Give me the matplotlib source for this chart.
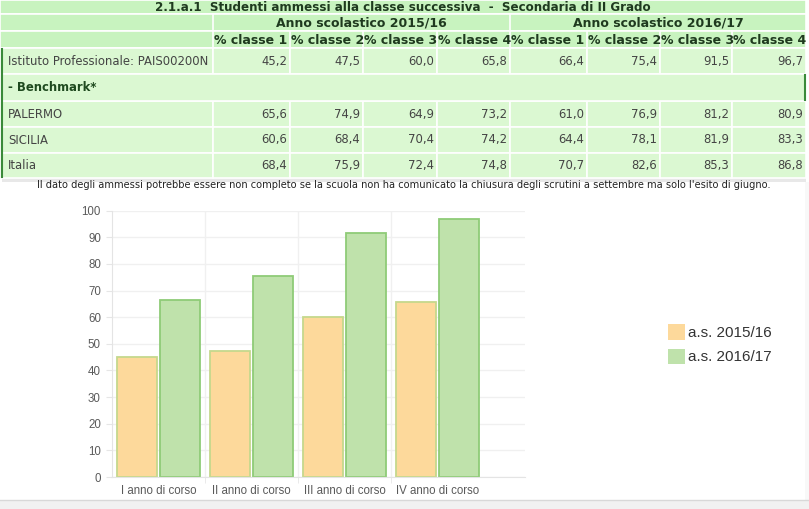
import matplotlib
matplotlib.use("Agg")
import matplotlib.pyplot as plt
import numpy as np
from matplotlib.patches import Rectangle

# --- table data ---
table_title = "2.1.a.1  Studenti ammessi alla classe successiva  -  Secondaria di II Grado"
year_headers = ["Anno scolastico 2015/16", "Anno scolastico 2016/17"]
col_headers = ["% classe 1", "% classe 2", "% classe 3", "% classe 4"] * 2
row_labels = ["Istituto Professionale: PAIS00200N", "PALERMO", "SICILIA", "Italia"]
row_values = [
    ["45,2", "47,5", "60,0", "65,8", "66,4", "75,4", "91,5", "96,7"],
    ["65,6", "74,9", "64,9", "73,2", "61,0", "76,9", "81,2", "80,9"],
    ["60,6", "68,4", "70,4", "74,2", "64,4", "78,1", "81,9", "83,3"],
    ["68,4", "75,9", "72,4", "74,8", "70,7", "82,6", "85,3", "86,8"],
]
footnote = ("Il dato degli ammessi potrebbe essere non completo se la scuola non ha "
            "comunicato la chiusura degli scrutini a settembre ma solo l'esito di giugno.")

# --- chart data ---
categories = ["I anno di corso", "II anno di corso", "III anno di corso", "IV anno di corso"]
series_labels = ["a.s. 2015/16", "a.s. 2016/17"]
values_1516 = [45.2, 47.5, 60.0, 65.8]
values_1617 = [66.4, 75.4, 91.5, 96.7]

W, H = 809, 509
fig = plt.figure(figsize=(W / 100, H / 100), dpi=100)
fig.patch.set_facecolor("white")

# overlay axes in pixel coords for the html-like table
bg = fig.add_axes([0, 0, 1, 1])
bg.set_xlim(0, W)
bg.set_ylim(H, 0)
bg.axis("off")

head_bg = "#c8f3bf"
cell_bg = "#dbf8d2"
tfont = "DejaVu Sans"
col_x = [0, 213, 290, 363, 437, 510, 587, 660, 732, 806]
head_rows = [(0, 14), (14, 31), (31, 48)]
data_rows = [(48, 74), (101, 127), (127, 153), (153, 178)]
bench_row = (74, 101)

# shadow under table / right edge
bg.add_patch(Rectangle((2, 178), 804, 4, color="#e8e8e8", lw=0))
bg.add_patch(Rectangle((805, 182), 4, 318, color="#f8f8f8", lw=0))
for y0, y1 in head_rows:
    bg.add_patch(Rectangle((0, y0), 806, y1 - y0, facecolor=head_bg, edgecolor="white", lw=1.2))
for y0, y1 in data_rows:
    for i in range(len(col_x) - 1):
        bg.add_patch(Rectangle((col_x[i], y0), col_x[i + 1] - col_x[i], y1 - y0,
                               facecolor=cell_bg, edgecolor="white", lw=1.2))
    bg.plot([2, 2], [y0 + 1, y1 - 1], color="#3a8a3a", lw=1.5)
bg.add_patch(Rectangle((0, bench_row[0]), 806, bench_row[1] - bench_row[0],
                       facecolor=cell_bg, edgecolor="white", lw=1.2))
bg.plot([2, 2], [bench_row[0] + 1, bench_row[1] - 1], color="#3a8a3a", lw=1.5)
bg.plot([805, 805], [bench_row[0] + 1, bench_row[1] - 1], color="#3a8a3a", lw=1.5)

# header separators for the year groups
for y0, y1 in head_rows[1:]:
    for x in ([213, 510] if y0 == 14 else col_x[1:-1]):
        bg.plot([x, x], [y0, y1], color="white", lw=1.2)

hcol = "#1f3a1f"
bg.text(651, 7, table_title, ha="right", va="center", fontsize=8.6, fontweight="bold",
        color=hcol, family=tfont)
for k, yh in enumerate(year_headers):
    xc = (col_x[1 + 4 * k] + col_x[5 + 4 * k]) / 2
    bg.text(xc, 22.5, yh, ha="center", va="center", fontsize=9, fontweight="bold",
            color=hcol, family=tfont)
for i, ch in enumerate(col_headers):
    bg.text(col_x[i + 1] + 1, 40, ch, ha="left", va="center", fontsize=9, fontweight="bold",
            color=hcol, family=tfont)

dcol = "#444444"
for (y0, y1), lab, vals in zip(data_rows, row_labels, row_values):
    yc = (y0 + y1) / 2
    bg.text(8, yc, lab, ha="left", va="center", fontsize=8.4, color=dcol, family=tfont)
    for i, v in enumerate(vals):
        bg.text(col_x[i + 2] - 3, yc, v, ha="right", va="center", fontsize=8.4,
                color=dcol, family=tfont)
bg.text(8, (bench_row[0] + bench_row[1]) / 2, "- Benchmark*", ha="left", va="center",
        fontsize=8.4, fontweight="bold", color="#1f4a1f", family=tfont)

bg.text(404, 185, footnote, ha="center", va="center", fontsize=7.1, color="#222222",
        family=tfont)

# bottom gray strip
bg.add_patch(Rectangle((0, 500), W, 9, color="#f1f1f1", lw=0))
bg.plot([0, W], [500, 500], color="#d8d8d8", lw=1)

# --- bar chart ---
ax = fig.add_axes([112 / W, (H - 477) / H, (525 - 112) / W, (477 - 210.7) / H])
x = np.arange(len(categories))
bw = 0.43
ax.bar(x - bw / 2 - 0.012, values_1516, width=bw, color="#fdd99b", edgecolor="#c5d88c",
       lw=1.3, label=series_labels[0], zorder=2)
ax.bar(x + bw / 2 + 0.012, values_1617, width=bw, color="#bfe2ab", edgecolor="#8fcb77",
       lw=1.3, label=series_labels[1], zorder=2)
ax.set_xlim(-0.5, (525 - 112) / 93 - 0.5)
ax.set_ylim(0, 100)
ax.set_yticks(np.arange(0, 101, 10))
ax.set_xticks(x)
ax.set_xticklabels(categories)
ax.set_xticks([0.5, 1.5, 2.5], minor=True)
ax.tick_params(axis="x", which="major", length=0, pad=6, labelsize=8.3, colors="#5a5a5a")
ax.tick_params(axis="x", which="minor", length=4, color="#e6e6e6")
ax.tick_params(axis="y", length=4, color="#e6e6e6", labelsize=8.3, colors="#5a5a5a", pad=4)
for t in ax.get_xticklabels() + ax.get_yticklabels():
    t.set_family("Liberation Sans")
ax.grid(axis="y", color="#f0f0f0", lw=1, zorder=0)
ax.grid(axis="x", which="minor", color="#f0f0f0", lw=1, zorder=0)
for s in ["top", "right"]:
    ax.spines[s].set_visible(False)
ax.spines["left"].set_color("#e4e4e4")
ax.spines["bottom"].set_color("#e4e4e4")

leg = fig.legend(loc="upper left", bbox_to_anchor=(662 / W, 1 - 318 / H), frameon=False,
                 fontsize=11, handlelength=1.1, handleheight=1.2, handletextpad=0.2,
                 labelspacing=0.55, borderaxespad=0)
for t in leg.get_texts():
    t.set_color("#333333")
    t.set_family("Liberation Sans")
for h in leg.legend_handles:
    h.set_edgecolor("none")

fig.savefig("out.png", dpi=100)
